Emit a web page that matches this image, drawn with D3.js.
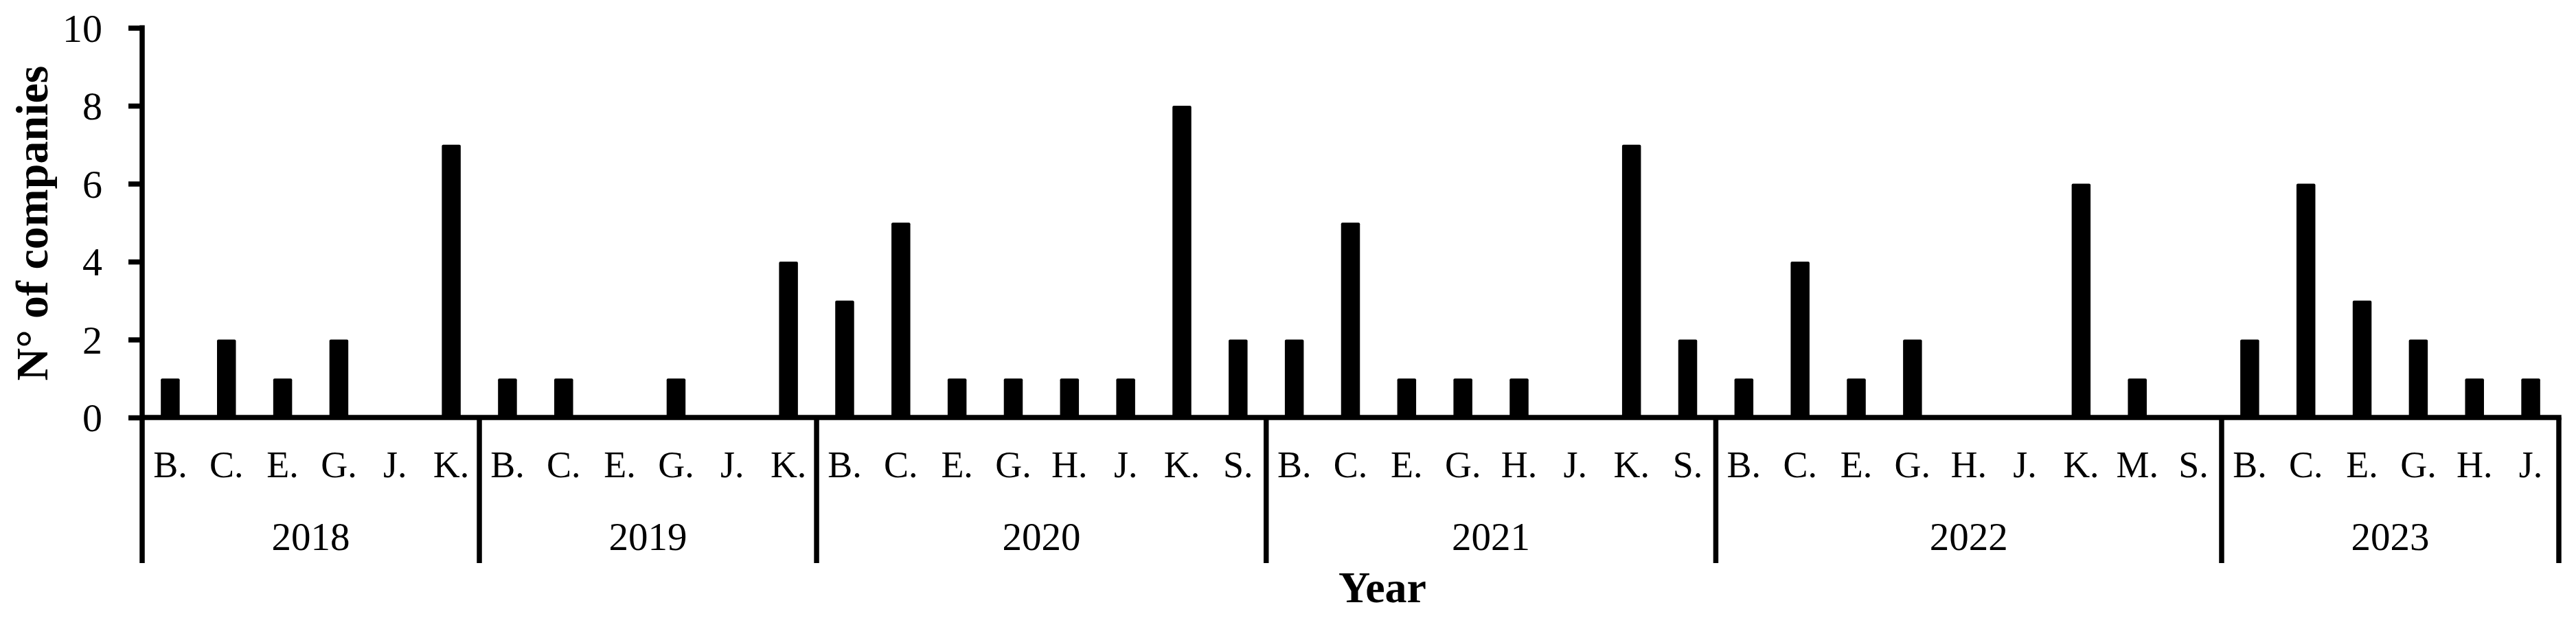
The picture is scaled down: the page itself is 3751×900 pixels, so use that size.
<!DOCTYPE html>
<html>
<head>
<meta charset="utf-8">
<script src="https://cdn.jsdelivr.net/npm/d3@7"></script>
<style>
  html, body { margin: 0; padding: 0; background: #fff; }
  svg { display: block; }
  text { font-family: "Liberation Serif", "Times New Roman", serif; fill: #000; }
</style>
</head>
<body>
<svg id="chart" width="3751" height="900"></svg>
<script>
// ---- Data ----
const years = ["2018", "2019", "2020", "2021", "2022", "2023"];
const categories2018 = ["B.", "C.", "E.", "G.", "J.", "K."];
const values2018     = [1, 2, 1, 2, 0, 7];
const categories2019 = ["B.", "C.", "E.", "G.", "J.", "K."];
const values2019     = [1, 1, 0, 1, 0, 4];
const categories2020 = ["B.", "C.", "E.", "G.", "H.", "J.", "K.", "S."];
const values2020     = [3, 5, 1, 1, 1, 1, 8, 2];
const categories2021 = ["B.", "C.", "E.", "G.", "H.", "J.", "K.", "S."];
const values2021     = [2, 5, 1, 1, 1, 0, 7, 2];
const categories2022 = ["B.", "C.", "E.", "G.", "H.", "J.", "K.", "M.", "S."];
const values2022     = [1, 4, 1, 2, 0, 0, 6, 1, 0];
const categories2023 = ["B.", "C.", "E.", "G.", "H.", "J."];
const values2023     = [2, 6, 3, 2, 1, 1];
const yTicks = [0, 2, 4, 6, 8, 10];
const yTitle = "N° of companies";
const xTitle = "Year";

const groupCats = [categories2018, categories2019, categories2020, categories2021, categories2022, categories2023];
const groupVals = [values2018, values2019, values2020, values2021, values2022, values2023];

// flatten
const rows = [];
years.forEach((yr, gi) => {
  groupCats[gi].forEach((c, ci) => {
    rows.push({ key: yr + "|" + c, year: yr, cat: c, value: groupVals[gi][ci] });
  });
});

// ---- Layout ----
const mLeft = 207, mRight = 3726, mTop = 40.5, mBase = 608, mBottomLine = 820;
const lw = 7.5;

const svg = d3.select("#chart");

const x = d3.scaleBand()
  .domain(rows.map(d => d.key))
  .range([mLeft, mRight])
  .paddingInner(0.664)
  .paddingOuter(0.332);

const y = d3.scaleLinear().domain([0, 10]).range([mBase, mTop]);

// bars
svg.append("g").selectAll("rect")
  .data(rows)
  .join("rect")
  .attr("x", d => x(d.key))
  .attr("y", d => y(d.value))
  .attr("width", x.bandwidth())
  .attr("height", d => y(0) - y(d.value))
  .attr("rx", 2)
  .attr("fill", "#000");

// y axis
const yAxis = svg.append("g")
  .attr("transform", `translate(${mLeft},0)`)
  .call(d3.axisLeft(y).tickValues(yTicks).tickSize(20).tickSizeOuter(0).tickPadding(38));
yAxis.select(".domain").remove();
yAxis.selectAll(".tick line").attr("stroke", "#000").attr("stroke-width", lw);
yAxis.selectAll(".tick text")
  .attr("font-family", "Liberation Serif, Times New Roman, serif")
  .attr("font-size", 58)
  .attr("fill", "#000")
  .attr("dy", "0.34em");

// y axis line (extends down through category area)
svg.append("line")
  .attr("x1", mLeft).attr("x2", mLeft)
  .attr("y1", y(10) - lw / 2).attr("y2", mBottomLine)
  .attr("stroke", "#000").attr("stroke-width", lw);

// x baseline
svg.append("line")
  .attr("x1", mLeft).attr("x2", mRight + lw / 2)
  .attr("y1", mBase).attr("y2", mBase)
  .attr("stroke", "#000").attr("stroke-width", lw);

// category labels
svg.append("g").selectAll("text")
  .data(rows)
  .join("text")
  .attr("x", d => x(d.key) + x.bandwidth() / 2)
  .attr("y", 695)
  .attr("text-anchor", "middle")
  .attr("font-size", 54)
  .text(d => d.cat);

// group separators and year labels
const step = x.step();
const groups = years.map((yr) => {
  const keys = rows.filter(r => r.year === yr).map(r => r.key);
  const x0 = x(keys[0]) - (step - x.bandwidth()) / 2;
  const x1 = x(keys[keys.length - 1]) + x.bandwidth() + (step - x.bandwidth()) / 2;
  return { year: yr, x0, x1 };
});

const boundaries = groups.slice(1).map(g => g.x0).concat([mRight]);
svg.append("g").selectAll("line")
  .data(boundaries)
  .join("line")
  .attr("x1", d => d).attr("x2", d => d)
  .attr("y1", mBase).attr("y2", mBottomLine)
  .attr("stroke", "#000").attr("stroke-width", lw);

svg.append("g").selectAll("text")
  .data(groups)
  .join("text")
  .attr("x", d => (d.x0 + d.x1) / 2)
  .attr("y", 801)
  .attr("text-anchor", "middle")
  .attr("font-size", 57)
  .text(d => d.year);

// axis titles
svg.append("text")
  .attr("transform", "translate(69,325) rotate(-90)")
  .attr("text-anchor", "middle")
  .attr("font-size", 66)
  .attr("font-weight", "bold")
  .text(yTitle);

svg.append("text")
  .attr("x", 2013)
  .attr("y", 877)
  .attr("text-anchor", "middle")
  .attr("font-size", 64)
  .attr("font-weight", "bold")
  .text(xTitle);
</script>
</body>
</html>
